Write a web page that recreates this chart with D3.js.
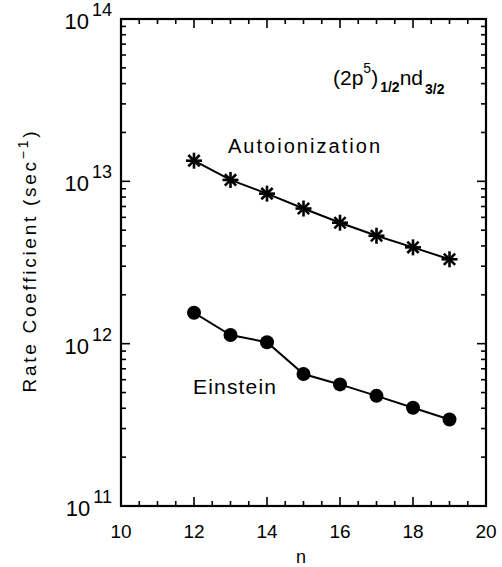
<!DOCTYPE html>
<html>
<head>
<meta charset="utf-8">
<script src="https://cdn.jsdelivr.net/npm/d3@7"></script>
<style>
  body { margin: 0; background: #fff; }
  text { font-family: "Liberation Sans", Arial, sans-serif; fill: #000; }
</style>
</head>
<body>
<script>
// data
var nValues = [12, 13, 14, 15, 16, 17, 18, 19];
var autoionization = [1.34e13, 1.02e13, 8.4e12, 6.8e12, 5.56e12, 4.62e12, 3.92e12, 3.31e12];
var einstein = [1.55e12, 1.13e12, 1.02e12, 6.5e11, 5.61e11, 4.77e11, 4.03e11, 3.41e11];
var xTicks = [10, 12, 14, 16, 18, 20];
var yDecades = [11, 12, 13, 14];

var margin = {top: 19, right: 16, bottom: 61, left: 121},
    width = 502 - margin.left - margin.right,
    height = 567 - margin.top - margin.bottom;

var x = d3.scaleLinear().domain([10, 20]).range([0, width]);
var y = d3.scaleLog().domain([1e11, 1e14]).range([height, 0]);

var svg = d3.select("body").append("svg")
    .attr("width", 502)
    .attr("height", 567)
  .append("g")
    .attr("transform", "translate(" + margin.left + "," + margin.top + ")");

// minor + major ticks, all pointing inward
var xMinor = d3.range(10, 20.01, 0.5).filter(function(d) { return d % 2 !== 0; });
var yMinor = [];
yDecades.slice(0, 3).forEach(function(e) {
  for (var m = 2; m <= 9; m++) yMinor.push(m * Math.pow(10, e));
});

function tickLines(g, data, len, side) {
  var horiz = side === "b" || side === "t";
  g.selectAll(null).data(data).enter().append("line")
    .attr("x1", function(d) { return horiz ? x(d) : (side === "l" ? 0 : width); })
    .attr("x2", function(d) { return horiz ? x(d) : (side === "l" ? len : width - len); })
    .attr("y1", function(d) { return horiz ? (side === "b" ? height : 0) : y(d); })
    .attr("y2", function(d) { return horiz ? (side === "b" ? height - len : len) : y(d); })
    .attr("stroke", "#000")
    .attr("stroke-width", 1.6);
}

var ticks = svg.append("g").attr("class", "ticks");
var yMajor = yDecades.map(function(e) { return Math.pow(10, e); });
tickLines(ticks, xTicks, 9, "b");
tickLines(ticks, xMinor, 5, "b");
tickLines(ticks, xTicks, 9, "t");
tickLines(ticks, xMinor, 5, "t");
tickLines(ticks, yMajor, 9, "l");
tickLines(ticks, yMinor, 5, "l");
tickLines(ticks, yMajor, 9, "r");
tickLines(ticks, yMinor, 5, "r");

// frame
svg.append("rect")
    .attr("width", width)
    .attr("height", height)
    .attr("fill", "none")
    .attr("stroke", "#000")
    .attr("stroke-width", 2.2);

// x tick labels
svg.append("g").selectAll("text").data(xTicks).enter().append("text")
    .attr("x", function(d) { return x(d); })
    .attr("y", height + 32)
    .attr("text-anchor", "middle")
    .style("font-size", "19px")
    .text(function(d) { return d; });

// y tick labels (10^n)
var yl = svg.append("g").selectAll("text").data(yDecades).enter().append("text")
    .attr("x", -9)
    .attr("y", function(d) { return y(Math.pow(10, d)) + 10; })
    .attr("text-anchor", "end")
    .style("font-size", "22px");
yl.append("tspan").text("10");
yl.append("tspan").attr("dx", 3).attr("dy", -13).style("font-size", "18px").text(function(d) { return d; });

// axis titles
svg.append("text")
    .attr("x", 301 - margin.left)
    .attr("y", 563 - margin.top)
    .attr("text-anchor", "middle")
    .style("font-size", "18px")
    .text("n");

var yt = svg.append("text")
    .attr("transform", "translate(" + (36 - margin.left) + "," + (262 - margin.top) + ") rotate(-90)")
    .attr("text-anchor", "middle")
    .attr("textLength", 261)
    .style("font-size", "19px");
yt.append("tspan").text("Rate Coefficient (sec");
yt.append("tspan").attr("dy", -8).style("font-size", "14px").text("\u22121");
yt.append("tspan").attr("dy", 8).text(")");

// lines
var line = d3.line()
    .x(function(d, i) { return x(nValues[i]); })
    .y(function(d) { return y(d); });

svg.append("path").datum(autoionization)
    .attr("d", line).attr("fill", "none").attr("stroke", "#000").attr("stroke-width", 2);
svg.append("path").datum(einstein)
    .attr("d", line).attr("fill", "none").attr("stroke", "#000").attr("stroke-width", 2);

// asterisk markers
var star = svg.append("g").selectAll("g").data(autoionization).enter().append("g")
    .attr("transform", function(d, i) { return "translate(" + x(nValues[i]) + "," + y(d) + ")"; });
[0, 45, 90, 135].forEach(function(a) {
  star.append("line")
      .attr("x1", -8).attr("x2", 8)
      .attr("transform", "rotate(" + a + ")")
      .attr("stroke", "#000").attr("stroke-width", 2.6);
});

// filled circles
svg.append("g").selectAll("circle").data(einstein).enter().append("circle")
    .attr("cx", function(d, i) { return x(nValues[i]); })
    .attr("cy", function(d) { return y(d); })
    .attr("r", 7)
    .attr("fill", "#000");

// annotations
svg.append("text")
    .attr("x", 228 - margin.left)
    .attr("y", 153 - margin.top)
    .style("font-size", "20px")
    .attr("textLength", 152)
    .text("Autoionization");

svg.append("text")
    .attr("x", 193 - margin.left)
    .attr("y", 394 - margin.top)
    .style("font-size", "21px")
    .attr("textLength", 83)
    .text("Einstein");

var lab = svg.append("text")
    .attr("x", 333 - margin.left)
    .attr("y", 85 - margin.top)
    .style("font-size", "21px");
lab.append("tspan").text("(2p");
lab.append("tspan").attr("dy", -12).style("font-size", "14px").text("5");
lab.append("tspan").attr("dy", 12).text(")");
lab.append("tspan").attr("dy", 7).attr("dx", 2).style("font-size", "14px").style("font-weight", "bold").text("1/2");
lab.append("tspan").attr("dy", -7).text("nd");
lab.append("tspan").attr("dy", 9).attr("dx", 2).style("font-size", "14px").style("font-weight", "bold").text("3/2");
</script>
</body>
</html>
